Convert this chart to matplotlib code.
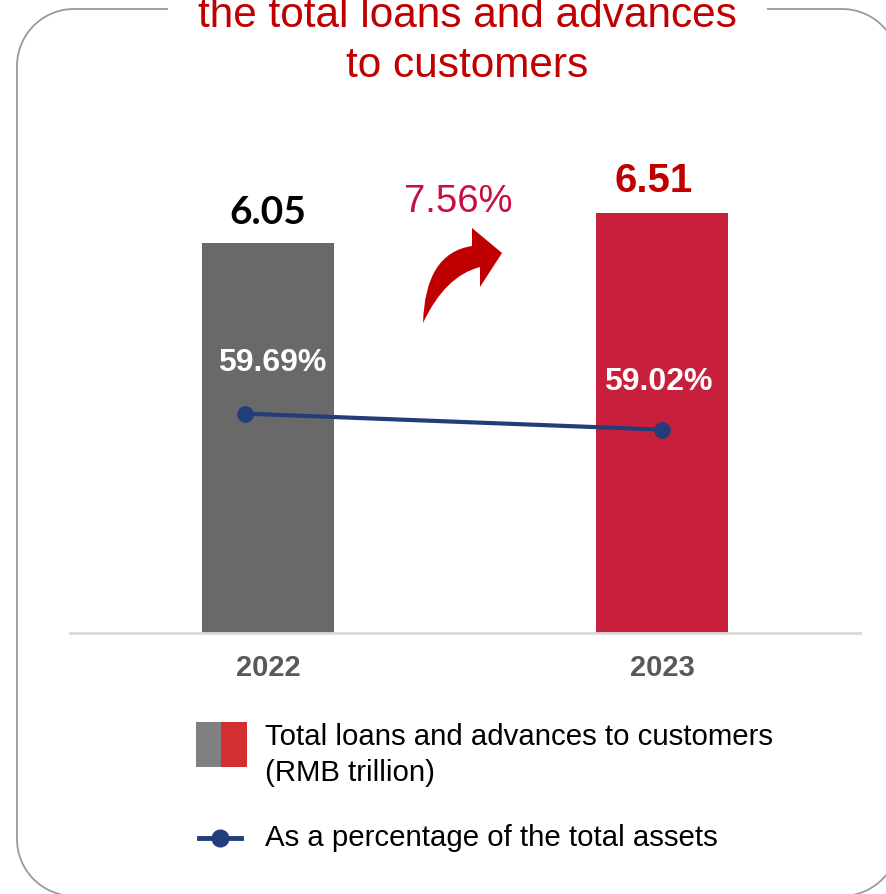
import numpy as np
import matplotlib
matplotlib.use("Agg")
import matplotlib.pyplot as plt
from matplotlib.patches import PathPatch, Rectangle
from matplotlib.path import Path
from matplotlib.lines import Line2D

plt.rcParams['font.family'] = ['Liberation Sans', 'DejaVu Sans']

years = ["2022", "2023"]
loans = [6.05, 6.51]              # RMB trillion
share_of_assets = [59.69, 59.02]  # % of total assets
growth = "7.56%"

bar_colors = ["#696969", "#C8203C"]
value_colors = ["#000000", "#C00000"]
line_color = "#233D7B"
title_red = "#C00000"

W, H = 886, 894
fig = plt.figure(figsize=(W / 100, H / 100), dpi=100)


def fx(px):
    return px / W


def fy(py):
    return 1 - py / H


# rounded frame around the panel (pixel geometry, then to figure fraction)
left, top, right, bottom, r = 17, 9, 899, 896, 57
t = np.linspace(0, np.pi / 2, 30)
corners = [
    (right - r, top + r, t + np.pi / 2 * 0),      # top-right
    (left + r, top + r, t + np.pi / 2),           # top-left
    (left + r, bottom - r, t + np.pi),            # bottom-left
    (right - r, bottom - r, t + 3 * np.pi / 2),   # bottom-right
]
fxs, fys = [], []
for cx, cy, ang in corners:
    fxs.extend(cx + r * np.cos(ang))
    fys.extend(cy - r * np.sin(ang))
fxs.append(fxs[0])
fys.append(fys[0])
fig.add_artist(Line2D([fx(v) for v in fxs], [fy(v) for v in fys],
                      transform=fig.transFigure, color="#9A9A9A",
                      linewidth=1.3))

# title sits in a gap of the frame's top edge
fig.text(fx(467.5), fy(41), "the total loans and advances\nto customers",
         ha="center", va="center", color=title_red, fontsize=30.5,
         linespacing=1.32,
         bbox=dict(facecolor="white", edgecolor="none", pad=22))

ax = fig.add_axes([fx(70), fy(633), fx(860) - fx(70), fy(120) - fy(633)])
x = np.arange(len(years))
ax.bar(x, loans, width=0.335, color=bar_colors, zorder=2)
ax.set_xlim(-0.503, 1.503)
ax.set_ylim(0, 7.95)
for s in ["top", "right", "left"]:
    ax.spines[s].set_visible(False)
ax.spines["bottom"].set_color("#D9D9D9")
ax.spines["bottom"].set_linewidth(2)
ax.set_yticks([])
ax.set_xticks(x)
ax.set_xticklabels(years, fontsize=21, fontweight="bold", color="#595959")
ax.tick_params(axis="x", length=0, pad=15)

# value labels above bars
ax.text(x[0], loans[0] + 0.2, f"{loans[0]:.2f}", ha="center", va="bottom",
        fontsize=28, fontweight="bold", color=value_colors[0],
        family=["Lato", "DejaVu Sans"])
ax.text(x[1] - 0.02, loans[1] + 0.2, f"{loans[1]:.2f}", ha="center",
        va="bottom", fontsize=29, fontweight="bold", color=value_colors[1])

# percentage line on a twin scale
ax2 = ax.twinx()
ax2.set_ylim(50.53, 71.95)
ax2.axis("off")
line_x = [x[0] - 0.058, x[1]]
ax2.plot(line_x, share_of_assets, color=line_color, linewidth=3,
         marker="o", markersize=11, zorder=3)
ax2.text(x[0] + 0.01, share_of_assets[0] + 2.1, f"{share_of_assets[0]:.2f}%",
         ha="center", va="center", fontsize=23, fontweight="bold",
         color="white")
ax2.text(x[1] - 0.01, share_of_assets[1] + 2.0, f"{share_of_assets[1]:.2f}%",
         ha="center", va="center", fontsize=23, fontweight="bold",
         color="white")

# growth label and curved arrow
fig.text(fx(458.5), fy(202), growth, ha="center", va="center",
         fontsize=27.5, color="#C8103E")
pts = [(423, 323), (425, 253), (472, 246), (472, 228), (502, 253),
       (480, 287), (480, 267), (445, 276), (423, 323), (423, 323)]
codes = [Path.MOVETO, Path.CURVE3, Path.CURVE3, Path.LINETO, Path.LINETO,
         Path.LINETO, Path.LINETO, Path.CURVE3, Path.CURVE3, Path.CLOSEPOLY]
arrow = Path([(fx(a), fy(b)) for a, b in pts], codes)
fig.add_artist(PathPatch(arrow, transform=fig.transFigure,
                         facecolor="#C00000", edgecolor="none"))

# legend, drawn by hand
fig.add_artist(Rectangle((fx(196), fy(767)), fx(221) - fx(196), fy(722) - fy(767),
                         transform=fig.transFigure, facecolor="#808080",
                         edgecolor="none"))
fig.add_artist(Rectangle((fx(221), fy(767)), fx(247) - fx(221), fy(722) - fy(767),
                         transform=fig.transFigure, facecolor="#D03030",
                         edgecolor="none"))
fig.text(fx(265), fy(737), "Total loans and advances to customers",
         ha="left", va="center", fontsize=21.2, color="#000000")
fig.text(fx(265), fy(773), "(RMB trillion)",
         ha="left", va="center", fontsize=21.2, color="#000000")
fig.add_artist(Line2D([fx(199), fx(241)], [fy(838), fy(838)],
                      transform=fig.transFigure, color=line_color,
                      linewidth=3.5))
fig.add_artist(Line2D([fx(220)], [fy(838)], transform=fig.transFigure,
                      color=line_color, marker="o", markersize=12))
fig.text(fx(265), fy(838), "As a percentage of the total assets",
         ha="left", va="center", fontsize=21.2, color="#000000")

fig.savefig("out.png", dpi=100)
